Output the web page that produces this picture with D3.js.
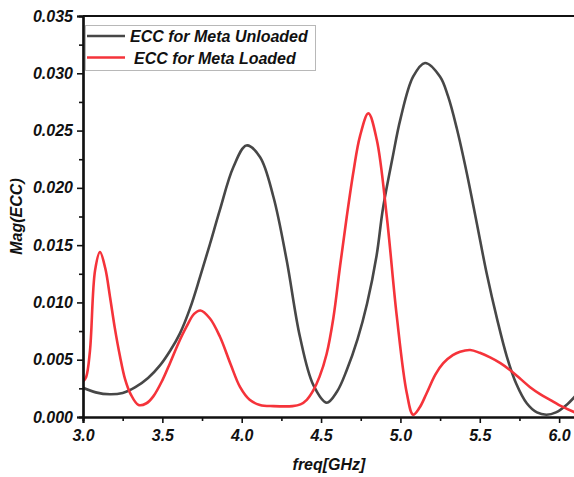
<!DOCTYPE html>
<html>
<head>
<meta charset="utf-8">
<script src="https://cdn.jsdelivr.net/npm/d3@7"></script>
<style>
  body { margin: 0; background: #fff; }
  text { font-family: "Liberation Sans", Arial, sans-serif; font-weight: bold; font-style: italic; }
</style>
</head>
<body>
<svg id="chart" width="574" height="477"></svg>
<script>
// values
const freqUnloaded = [3.00, 3.08, 3.17, 3.25, 3.33, 3.41, 3.485, 3.55, 3.611, 3.675, 3.737, 3.80, 3.863, 3.947, 4.03, 4.115, 4.20, 4.283, 4.367, 4.451, 4.536, 4.60, 4.662, 4.73, 4.79, 4.85, 4.89, 4.95, 5.00, 5.08, 5.155, 5.25, 5.30, 5.355, 5.418, 5.48, 5.544, 5.61, 5.67, 5.73, 5.796, 5.86, 5.92, 5.98, 6.05, 6.10];
const eccUnloaded = [0.00255, 0.00215, 0.00198, 0.0021, 0.0026, 0.0034, 0.0045, 0.0058, 0.0073, 0.0095, 0.0122, 0.0151, 0.0181, 0.0218, 0.0237, 0.0227, 0.0192, 0.0137, 0.0070, 0.0028, 0.00125, 0.0022, 0.0041, 0.0068, 0.0099, 0.0141, 0.0182, 0.0226, 0.0260, 0.0297, 0.0309, 0.0297, 0.0280, 0.0252, 0.0213, 0.0170, 0.0125, 0.0085, 0.0053, 0.0029, 0.0012, 0.0004, 0.0002, 0.0004, 0.0011, 0.0018];

const freqLoaded = [3.00, 3.02, 3.044, 3.076, 3.107, 3.14, 3.17, 3.20, 3.233, 3.265, 3.30, 3.35, 3.40, 3.443, 3.50, 3.548, 3.60, 3.653, 3.70, 3.74, 3.80, 3.863, 3.93, 3.99, 4.05, 4.115, 4.20, 4.32, 4.37, 4.41, 4.45, 4.49, 4.535, 4.577, 4.62, 4.662, 4.705, 4.745, 4.798, 4.851, 4.914, 4.977, 5.04, 5.08, 5.12, 5.166, 5.22, 5.27, 5.33, 5.376, 5.44, 5.50, 5.565, 5.63, 5.69, 5.75, 5.817, 5.88, 5.943, 6.02, 6.10];
const eccLoaded = [0.0031, 0.0035, 0.0058, 0.0128, 0.0144, 0.0130, 0.0105, 0.0078, 0.0053, 0.0033, 0.0020, 0.00105, 0.0012, 0.0018, 0.0032, 0.0047, 0.0064, 0.0079, 0.0090, 0.0093, 0.0086, 0.0070, 0.0046, 0.0026, 0.0015, 0.00105, 0.00095, 0.00095, 0.0011, 0.0015, 0.0023, 0.0035, 0.0055, 0.0086, 0.0132, 0.0175, 0.0215, 0.0245, 0.0265, 0.0242, 0.0175, 0.0088, 0.0021, 0.0002, 0.0008, 0.0021, 0.0037, 0.0047, 0.0054, 0.0057, 0.00585, 0.0056, 0.0052, 0.0047, 0.0041, 0.0034, 0.0026, 0.0020, 0.0015, 0.0009, 0.0004];

const xTicks = [3.0, 3.5, 4.0, 4.5, 5.0, 5.5, 6.0];
const yTicks = [0, 0.005, 0.010, 0.015, 0.020, 0.025, 0.030, 0.035];
const seriesNames = ["ECC for Meta Unloaded", "ECC for Meta Loaded"];
const seriesColors = ["#474747", "#f5333a"];

const svg = d3.select("#chart");
const mLeft = 83, mRight = 575, mTop = 16, mBottom = 417;

const x = d3.scaleLinear().domain([3, 6.1]).range([mLeft, mRight]);
const y = d3.scaleLinear().domain([0, 0.035]).range([mBottom, mTop]);

// minor ticks
const xMinor = d3.range(3.25, 6.1, 0.5);
const yMinor = d3.range(0.0025, 0.035, 0.005);

svg.append("clipPath").attr("id", "plot")
  .append("rect").attr("x", mLeft).attr("y", mTop - 2).attr("width", mRight - mLeft).attr("height", mBottom - mTop + 2);

const line = d3.line()
  .x(d => x(d[0]))
  .y(d => y(d[1]))
  .curve(d3.curveCatmullRom.alpha(0.5));

const series = [
  d3.zip(freqUnloaded, eccUnloaded),
  d3.zip(freqLoaded, eccLoaded)
];

svg.append("g").attr("clip-path", "url(#plot)")
  .selectAll("path")
  .data(series)
  .join("path")
  .attr("d", line)
  .attr("fill", "none")
  .attr("stroke", (d, i) => seriesColors[i])
  .attr("stroke-width", 2.6)
  .attr("stroke-linejoin", "round");

// axes
const xAxis = svg.append("g").attr("transform", `translate(0,${mBottom})`)
  .call(d3.axisBottom(x).tickValues(xTicks).tickFormat(d3.format(".1f")).tickSize(6).tickPadding(7));
const xAxisMinor = svg.append("g").attr("transform", `translate(0,${mBottom})`)
  .call(d3.axisBottom(x).tickValues(xMinor).tickFormat("").tickSize(4));
const yAxis = svg.append("g").attr("transform", `translate(${mLeft},0)`)
  .call(d3.axisLeft(y).tickValues(yTicks).tickFormat(d3.format(".3f")).tickSize(6).tickPadding(4));
const yAxisMinor = svg.append("g").attr("transform", `translate(${mLeft},0)`)
  .call(d3.axisLeft(y).tickValues(yMinor).tickFormat("").tickSize(4));

[xAxis, xAxisMinor, yAxis, yAxisMinor].forEach(g => {
  g.select(".domain").attr("stroke", "#111").attr("stroke-width", 2.2);
  g.selectAll(".tick line").attr("stroke", "#111").attr("stroke-width", 1.6);
  g.selectAll("text").attr("font-size", 16).attr("fill", "#111")
    .attr("font-family", "Liberation Sans, Arial, sans-serif")
    .attr("font-weight", "bold").attr("font-style", "italic");
});

// top frame line
svg.append("line")
  .attr("x1", mLeft).attr("x2", mRight).attr("y1", mTop).attr("y2", mTop)
  .attr("stroke", "#111").attr("stroke-width", 2.2);

// axis titles
svg.append("text")
  .attr("x", (mLeft + mRight) / 2).attr("y", 470)
  .attr("text-anchor", "middle").attr("font-size", 16).attr("fill", "#111")
  .text("freq[GHz]");
svg.append("text")
  .attr("transform", `translate(22,${(mTop + mBottom) / 2}) rotate(-90)`)
  .attr("text-anchor", "middle").attr("font-size", 16).attr("fill", "#111")
  .text("Mag(ECC)");

// legend
const legend = svg.append("g");
legend.append("rect")
  .attr("x", 85.5).attr("y", 25.5).attr("width", 230).attr("height", 45)
  .attr("fill", "#fff").attr("stroke", "#b8b8b8").attr("stroke-width", 1);
const legendRows = [{ y: 36, tx: 130 }, { y: 57.5, tx: 134 }];
legendRows.forEach((r, i) => {
  legend.append("line")
    .attr("x1", 87).attr("x2", 125).attr("y1", r.y).attr("y2", r.y)
    .attr("stroke", seriesColors[i]).attr("stroke-width", 2.6);
  legend.append("text")
    .attr("x", r.tx).attr("y", r.y + 6)
    .attr("font-size", 16).attr("fill", "#111")
    .text(seriesNames[i]);
});
</script>
</body>
</html>
